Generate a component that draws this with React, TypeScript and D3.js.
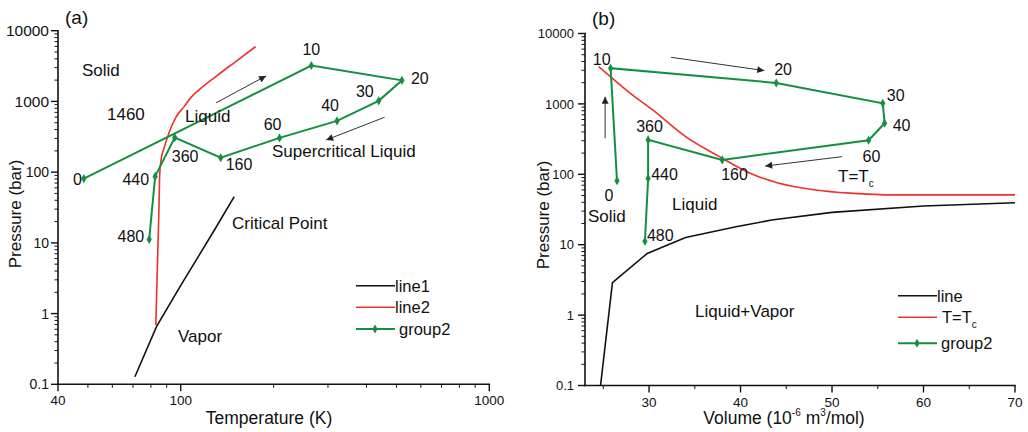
import React, { useEffect, useRef } from "react";
import * as d3 from "d3";

// time steps along the cycle, shared by both panels
const stepLabels = ["0", "10", "20", "30", "40", "60", "160", "360", "440", "480"];
const stepPressure = [81, 3220, 1985, 1018, 530, 305, 160, 308, 87, 11.2];
const stepTemperature = [48.5, 265, 521, 438, 321, 209, 134.7, 95.6, 82.6, 79];
const stepVolume = [26.5, 25.8, 43.9, 55.55, 55.75, 54.0, 38.0, 29.9, 29.9, 29.55];

// panel (a) phase boundaries
const line1T = [71, 83.5, 100, 115, 130, 149];
const line1P = [0.128, 0.66, 2.5, 6.8, 16.5, 45];
const line2T = [83.0, 84.1, 85.1, 85.4, 86.3, 88.3, 91.6, 96.6, 102.5, 108, 114.6, 129.8, 149.9, 174.8];
const line2P = [0.69, 5.7, 40, 88, 149, 220, 360, 604, 844, 1140, 1456, 2243, 3606, 5960];

// panel (b) boundaries
const lineV = [24.7, 26, 29.8, 34, 39.5, 43.4, 50, 60, 70];
const lineP = [0.1, 2.9, 7.5, 12.7, 18, 22.4, 28.8, 35.5, 39.5];
const tcV = [24.5, 26, 28, 30.4, 34, 37.7, 41.3, 44, 48.2, 52, 57, 70];
const tcP = [3380, 2310, 1400, 820, 342, 178, 100, 76, 60, 54, 51, 51];

// ticks
const pressureTicks = [0.1, 1, 10, 100, 1000, 10000];
const tempTicks = [40, 100, 1000];
const tempMinor = [50, 60, 70, 80, 90, 200, 300, 400, 500, 600, 700, 800, 900];
const volumeTicks = [30, 40, 50, 60, 70];
const volumeMinor = [25, 35, 45, 55, 65];

// label placement next to each step point: [dx, dy, anchor]
const labelPosA: [number, number, string][] = [
  [-2, 6, "end"], [0, -11, "middle"], [9, 4, "start"], [-5, -4, "end"], [-7, -10, "middle"],
  [-7, -8, "middle"], [5, 12, "start"], [-3, 24, "start"], [-6, 9, "end"], [-5, 3, "end"],
];
const labelPosB: [number, number, string][] = [
  [-8, 20, "middle"], [0, -3, "end"], [-2, -8, "start"], [4, -2, "start"], [8, 8, "start"],
  [-6, 22, "start"], [-1, 20, "start"], [-12, -8, "start"], [3, 1, "start"], [2, 0, "start"],
];

const ink = "#111";
const green = "#13903f";
const red = "#f0302a";
const font = "'Liberation Sans', Arial, sans-serif";

type Sel = d3.Selection<SVGGElement, unknown, null, undefined>;

function addText(g: Sel, x: number, y: number, str: string, size: number, anchor = "start") {
  return g.append("text").attr("x", x).attr("y", y).attr("font-size", size)
    .attr("text-anchor", anchor).attr("fill", ink).text(str);
}

function logYAxis(g: Sel, y: d3.ScaleLogarithmic<number, number>, x0: number, gap: number,
  size: (d: number) => number) {
  const [yb, yt] = y.range();
  g.append("line").attr("x1", x0).attr("x2", x0).attr("y1", yb + 0.8).attr("y2", yt - 0.8)
    .attr("stroke", ink).attr("stroke-width", 1.6);
  const minors: number[] = [];
  pressureTicks.slice(0, -1).forEach((d) => { for (let k = 2; k < 10; k++) minors.push(d * k); });
  g.selectAll(null).data(minors).join("line")
    .attr("x1", x0 - 3.5).attr("x2", x0).attr("y1", (d) => y(d)).attr("y2", (d) => y(d))
    .attr("stroke", ink).attr("stroke-width", 1);
  g.selectAll(null).data(pressureTicks).join("line")
    .attr("x1", x0 - 7).attr("x2", x0).attr("y1", (d) => y(d)).attr("y2", (d) => y(d))
    .attr("stroke", ink).attr("stroke-width", 1.4);
  g.selectAll(null).data(pressureTicks).join("text")
    .attr("x", x0 - gap).attr("y", (d) => y(d)).attr("dy", "0.36em")
    .attr("text-anchor", "end").attr("font-size", (d) => size(d)).attr("fill", ink)
    .text((d) => String(d));
}

function xAxis(g: Sel, x: (v: number) => number, y0: number, x0: number, x1: number,
  majors: number[], minors: number[]) {
  g.append("line").attr("x1", x0 - 0.8).attr("x2", x1 + 0.8).attr("y1", y0).attr("y2", y0)
    .attr("stroke", ink).attr("stroke-width", 1.6);
  g.selectAll(null).data(minors).join("line")
    .attr("x1", (d) => x(d)).attr("x2", (d) => x(d)).attr("y1", y0).attr("y2", y0 + 3.5)
    .attr("stroke", ink).attr("stroke-width", 1);
  g.selectAll(null).data(majors).join("line")
    .attr("x1", (d) => x(d)).attr("x2", (d) => x(d)).attr("y1", y0).attr("y2", y0 + 7)
    .attr("stroke", ink).attr("stroke-width", 1.4);
  g.selectAll(null).data(majors).join("text")
    .attr("x", (d) => x(d)).attr("y", y0 + 21).attr("text-anchor", "middle")
    .attr("font-size", 13.5).attr("fill", ink).text((d) => String(d));
}

function drawSteps(g: Sel, xs: number[], ys: number[], pos: [number, number, string][]) {
  const pts = xs.map((x, i) => [x, ys[i]] as [number, number]);
  g.append("path").attr("d", d3.line()(pts)).attr("fill", "none")
    .attr("stroke", green).attr("stroke-width", 2);
  const sym = d3.symbol().type(d3.symbolDiamond).size(24);
  g.selectAll(null).data(pts).join("path")
    .attr("transform", (d) => `translate(${d[0]},${d[1]})`).attr("d", sym()).attr("fill", green);
  pts.forEach((p, i) => {
    const [dx, dy, anchor] = pos[i];
    addText(g, p[0] + dx, p[1] + dy, stepLabels[i], 16, anchor);
  });
}

function arrow(g: Sel, a: [number, number], b: [number, number]) {
  g.append("line").attr("x1", a[0]).attr("y1", a[1]).attr("x2", b[0]).attr("y2", b[1])
    .attr("stroke", "#333").attr("stroke-width", 1).attr("marker-end", "url(#arrowHead)");
}

function legend(g: Sel, x0: number, ys: number[], names: string[], colors: string[]) {
  ys.forEach((yy, i) => {
    g.append("line").attr("x1", x0).attr("x2", x0 + 39).attr("y1", yy).attr("y2", yy)
      .attr("stroke", colors[i]).attr("stroke-width", i === 2 ? 2 : 1.6);
    if (i === 2) {
      g.append("path").attr("transform", `translate(${x0 + 19},${yy})`)
        .attr("d", d3.symbol().type(d3.symbolDiamond).size(24)()).attr("fill", green);
    }
    if (names[i] === "T=T") {
      const t = addText(g, x0 + 44, yy + 6, "T=T", 16.5);
      t.append("tspan").attr("font-size", 10).attr("dy", 5).text("c");
    } else {
      addText(g, x0 + (i === 2 ? 43 : 39), yy + 6, names[i], 16.5);
    }
  });
}

export default function App() {
  const ref = useRef<SVGSVGElement>(null);

  useEffect(() => {
    const svg = d3.select(ref.current);
    svg.selectAll("*").remove();
    svg.append("defs").append("marker")
      .attr("id", "arrowHead").attr("viewBox", "0 0 10 10")
      .attr("refX", 10).attr("refY", 5).attr("markerWidth", 9).attr("markerHeight", 7)
      .attr("orient", "auto")
      .append("path").attr("d", "M0,0 L10,5 L0,10 z").attr("fill", "#222");

    const root = svg.append("g") as unknown as Sel;

    // ---------- panel (a): P vs T ----------
    const xA = d3.scaleLog().domain([40, 1000]).range([58, 489.3]);
    const yA = d3.scaleLog().domain([0.1, 10000]).range([384.3, 30.7]);
    const a = root.append("g") as Sel;
    logYAxis(a, yA, 58, 9, (d) => (d >= 1000 ? 15.5 : 14));
    xAxis(a, xA, 384.3, 58, 489.3, tempTicks, tempMinor);

    const lineA = d3.line<[number, number]>().x((d) => xA(d[0])).y((d) => yA(d[1]));
    a.append("path").attr("d", lineA(line1T.map((t, i) => [t, line1P[i]]))).attr("fill", "none")
      .attr("stroke", ink).attr("stroke-width", 1.6);
    a.append("path")
      .attr("d", lineA.curve(d3.curveMonotoneX)(line2T.map((t, i) => [t, line2P[i]])))
      .attr("fill", "none").attr("stroke", red).attr("stroke-width", 1.6);
    lineA.curve(d3.curveLinear);

    drawSteps(a, stepTemperature.map((t) => xA(t)), stepPressure.map((p) => yA(p)), labelPosA);

    arrow(a, [xA(130), yA(953)], [xA(189), yA(2296)]);
    arrow(a, [xA(458), yA(598)], [xA(296), yA(285)]);

    addText(a, 65, 24, "(a)", 19);
    addText(a, 82, 76, "Solid", 17);
    addText(a, 107, 120, "1460", 17);
    addText(a, 185, 122, "Liquid", 17);
    addText(a, 272, 157, "Supercritical Liquid", 17);
    addText(a, 232, 229, "Critical Point", 17);
    addText(a, 178, 342, "Vapor", 17);
    addText(a, 269, 424, "Temperature (K)", 17.5, "middle");
    a.append("text").attr("transform", "translate(21,214) rotate(-90)")
      .attr("text-anchor", "middle").attr("font-size", 17).attr("fill", ink).text("Pressure (bar)");

    legend(a, 356, [285.7, 307.3, 329], ["line1", "line2", "group2"], [ink, red, green]);

    // ---------- panel (b): P vs V ----------
    const xB = d3.scaleLinear().domain([23, 70]).range([585, 1015]);
    const yB = d3.scaleLog().domain([0.1, 10000]).range([385.5, 33.5]);
    const b = root.append("g") as Sel;
    logYAxis(b, yB, 585, 11, () => 13);
    xAxis(b, xB, 385.5, 585, 1015, volumeTicks, volumeMinor);

    const lineB = d3.line<[number, number]>().x((d) => xB(d[0])).y((d) => yB(d[1]));
    b.append("path").attr("d", lineB(lineV.map((v, i) => [v, lineP[i]]))).attr("fill", "none")
      .attr("stroke", ink).attr("stroke-width", 1.6);
    b.append("path")
      .attr("d", lineB.curve(d3.curveMonotoneX)(tcV.map((v, i) => [v, tcP[i]])))
      .attr("fill", "none").attr("stroke", red).attr("stroke-width", 1.6);
    lineB.curve(d3.curveLinear);

    drawSteps(b, stepVolume.map((v) => xB(v)), stepPressure.map((p) => yB(p)), labelPosB);

    arrow(b, [xB(32.4), yB(4592)], [xB(42.6), yB(2972)]);
    arrow(b, [xB(25.2), yB(324)], [xB(25.2), yB(1265)]);
    arrow(b, [xB(51.1), yB(178)], [xB(42.7), yB(131)]);

    addText(b, 592, 25, "(b)", 19);
    addText(b, 588, 222, "Solid", 17);
    addText(b, 672, 210, "Liquid", 17);
    addText(b, 695, 317, "Liquid+Vapor", 17);
    const tc = addText(b, 838, 182, "T=T", 17);
    tc.append("tspan").attr("font-size", 10).attr("dy", 5).text("c");
    b.append("text").attr("transform", "translate(549,215) rotate(-90)")
      .attr("text-anchor", "middle").attr("font-size", 17).attr("fill", ink).text("Pressure (bar)");
    const vt = addText(b, 784, 424, "Volume (10", 17.5, "middle");
    vt.append("tspan").attr("font-size", 10).attr("dy", -8).text("-6");
    vt.append("tspan").attr("dy", 8).text(" m");
    vt.append("tspan").attr("font-size", 10).attr("dy", -8).text("3");
    vt.append("tspan").attr("dy", 8).text("/mol)");

    legend(b, 898, [295.7, 317.3, 343.3], ["line", "T=T", "group2"], [ink, red, green]);
  }, []);

  return (
    <svg
      ref={ref}
      width={1028}
      height={432}
      style={{ position: "absolute", left: 0, top: 0, background: "#fff", fontFamily: font }}
    />
  );
}
